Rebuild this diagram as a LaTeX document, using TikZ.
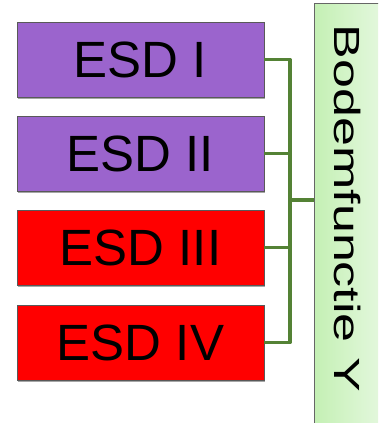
\documentclass[tikz,border=0pt]{standalone}
\usepackage{fontspec}
\setmainfont{Liberation Sans}
\usetikzlibrary{shadows}
\definecolor{esdpurple}{RGB}{155,100,205}
\definecolor{esdred}{RGB}{255,0,0}
\definecolor{busgreen}{RGB}{84,130,53}
\definecolor{funcleft}{RGB}{196,240,180}
\definecolor{funcright}{RGB}{228,248,222}

\begin{document}
\begin{tikzpicture}[x=1pt, y=-1pt, esd/.style = {shape=rectangle, draw=gray!70!black, line width=0.6pt, minimum width=247pt, minimum height=75pt, inner sep=0pt, font=\fontsize{51}{60}\selectfont, drop shadow={shadow xshift=0.8pt, shadow yshift=-1.6pt, opacity=0.35, fill=black}}, bus/.style = {draw=busgreen, line width=3.6pt, line join=round}]
	\useasboundingbox (0,0) rectangle (378,423);
	\clip (0,0) rectangle (378,423);
	% functie box
	\shade[left color=funcleft, right color=funcright, draw=gray!80!black, line width=0.8pt] (314,3) rectangle (382,430);
	\node[rotate=-90, inner sep=0pt, font=\fontsize{52}{60}\selectfont] (func) at (347.5,208.5) {\scalebox{1}[0.7]{Bodemfunctie Y}};
	\coordinate (funcin) at (314,200);
	\coordinate (bus) at (290,200);
	% ESD boxes
	\node[esd, fill=esdpurple] (esd1) at (140.5,59.5) {ESD I};
	\node[esd, fill=esdpurple] (esd2) at (140.5,153.5) {ESD II};
	\node[esd, fill=esdred] (esd3) at (140.5,247.5) {ESD III};
	\node[esd, fill=esdred] (esd4) at (140.5,342.5) {ESD IV};
	% connectors
	\draw[bus] (esd1.east) -| (bus) |- (esd4.east);
	\draw[bus] (esd2.east) -- (esd2.east -| bus);
	\draw[bus] (esd3.east) -- (esd3.east -| bus);
	\draw[bus] (bus) -- (funcin);
\end{tikzpicture}
\end{document}
